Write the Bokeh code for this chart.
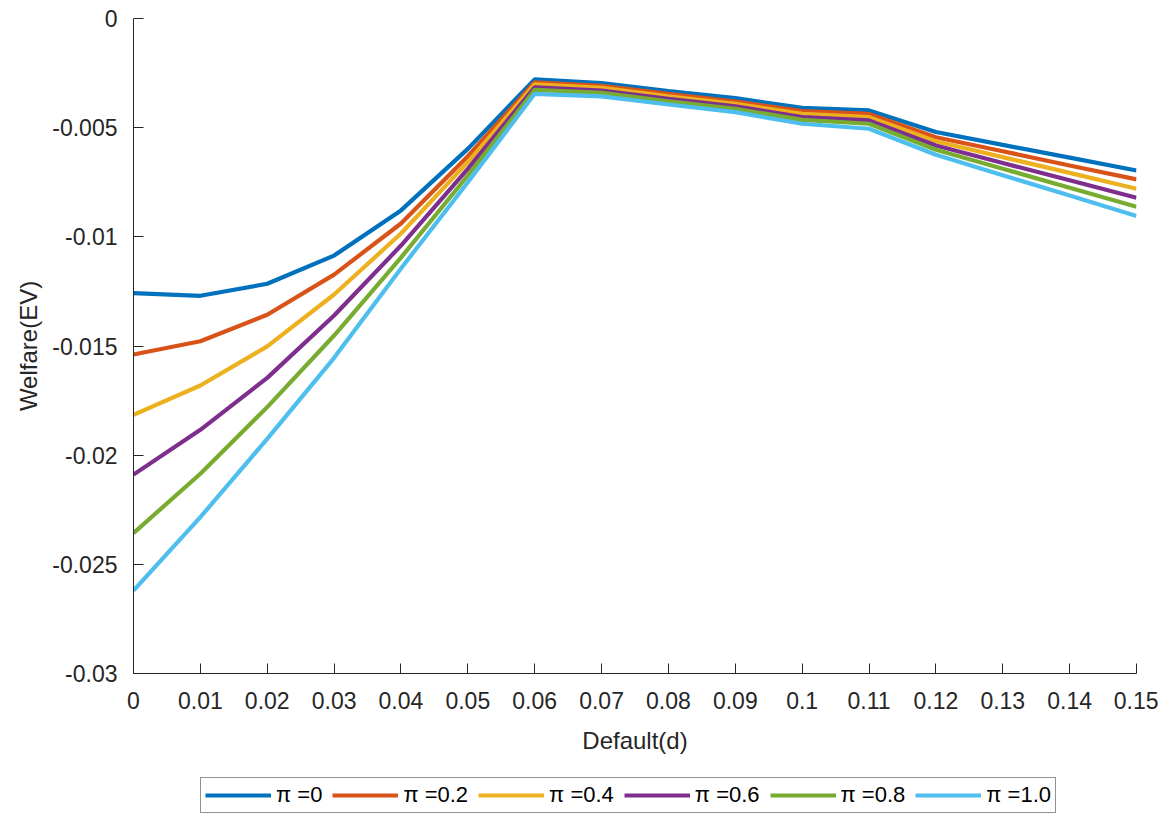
from bokeh.plotting import figure
from bokeh.layouts import column
from bokeh.models import Range1d, FixedTicker, Legend, LegendItem
from bokeh.embed import file_html
from bokeh.resources import INLINE

# Data
default_d = [0, 0.01, 0.02, 0.03, 0.04, 0.05, 0.06, 0.07, 0.08, 0.09, 0.10, 0.11, 0.12, 0.13, 0.14, 0.15]
pi_00 = [-0.01258, -0.01270, -0.01215, -0.01086, -0.00879, -0.00597, -0.00279, -0.00296, -0.00333, -0.00365,
         -0.00409, -0.00421, -0.00520, -0.00579, -0.00637, -0.00696]
pi_02 = [-0.01539, -0.01478, -0.01357, -0.01173, -0.00939, -0.00631, -0.00292, -0.00308, -0.00345, -0.00380,
         -0.00424, -0.00437, -0.00544, -0.00608, -0.00673, -0.00737]
pi_04 = [-0.01815, -0.01681, -0.01502, -0.01264, -0.00985, -0.00658, -0.00302, -0.00318, -0.00356, -0.00391,
         -0.00437, -0.00452, -0.00562, -0.00635, -0.00707, -0.00780]
pi_06 = [-0.02089, -0.01884, -0.01646, -0.01360, -0.01040, -0.00689, -0.00315, -0.00330, -0.00368, -0.00402,
         -0.00452, -0.00467, -0.00582, -0.00662, -0.00741, -0.00821]
pi_08 = [-0.02357, -0.02085, -0.01780, -0.01452, -0.01095, -0.00719, -0.00327, -0.00341, -0.00379, -0.00414,
         -0.00464, -0.00482, -0.00601, -0.00688, -0.00775, -0.00862]
pi_10 = [-0.02620, -0.02284, -0.01925, -0.01554, -0.01145, -0.00750, -0.00345, -0.00357, -0.00394, -0.00429,
         -0.00482, -0.00505, -0.00624, -0.00718, -0.00811, -0.00905]

series_labels = ["\u03c0 =0", "\u03c0 =0.2", "\u03c0 =0.4", "\u03c0 =0.6", "\u03c0 =0.8", "\u03c0 =1.0"]
series_colors = ["#0072BD", "#D95319", "#EDB120", "#7E2F8E", "#77AC30", "#4DBEEE"]
series_values = [pi_00, pi_02, pi_04, pi_06, pi_08, pi_10]

x_ticks = [0, 0.01, 0.02, 0.03, 0.04, 0.05, 0.06, 0.07, 0.08, 0.09, 0.10, 0.11, 0.12, 0.13, 0.14, 0.15]
x_tick_labels = ["0", "0.01", "0.02", "0.03", "0.04", "0.05", "0.06", "0.07", "0.08", "0.09",
                 "0.1", "0.11", "0.12", "0.13", "0.14", "0.15"]
y_ticks = [-0.03, -0.025, -0.02, -0.015, -0.01, -0.005, 0]
y_tick_labels = ["-0.03", "-0.025", "-0.02", "-0.015", "-0.01", "-0.005", "0"]

FONT = "Liberation Sans"
AXC = "#262626"

p = figure(frame_width=1003, frame_height=655,
           x_range=Range1d(0, 0.15), y_range=Range1d(-0.03, 0),
           output_backend="svg", toolbar_location=None,
           min_border_left=133, min_border_top=18, min_border_right=22, min_border_bottom=82)
p.outline_line_color = None
p.grid.visible = False
p.background_fill_color = "white"

for col, vals in zip(series_colors, series_values):
    p.line(default_d, vals, line_color=col, line_width=4.2)

for ax in (p.xaxis[0], p.yaxis[0]):
    ax.axis_line_color = AXC
    ax.axis_line_width = 1
    ax.major_tick_line_color = AXC
    ax.major_tick_in = 10
    ax.major_tick_out = 0
    ax.minor_tick_line_color = None
    ax.major_label_text_font = FONT
    ax.major_label_text_font_size = "23px"
    ax.major_label_text_color = AXC
    ax.axis_label_text_font = FONT
    ax.axis_label_text_font_size = "24px"
    ax.axis_label_text_font_style = "normal"
    ax.axis_label_text_color = AXC

p.xaxis.ticker = FixedTicker(ticks=x_ticks)
p.xaxis.major_label_overrides = {t: l for t, l in zip(x_ticks, x_tick_labels)}
p.yaxis.ticker = FixedTicker(ticks=y_ticks)
p.yaxis.major_label_overrides = {t: l for t, l in zip(y_ticks, y_tick_labels)}
p.xaxis.axis_label = "Default(d)"
p.yaxis.axis_label = "Welfare(EV)"
p.xaxis.major_label_standoff = 18
p.yaxis.major_label_standoff = 16
p.xaxis.axis_label_standoff = 15
p.yaxis.axis_label_standoff = 7

# Legend panel below the chart (same series drawn outside its visible range,
# so only the legend entries show)
lg = figure(width=1158, height=64, x_range=Range1d(0, 1), y_range=Range1d(1, 2),
            output_backend="svg", toolbar_location=None,
            min_border=0, x_axis_type=None, y_axis_type=None)
lg.outline_line_color = None
lg.grid.visible = False
items = []
for lab, col, vals in zip(series_labels, series_colors, series_values):
    r = lg.line(default_d, vals, line_color=col, line_width=4.2)
    items.append(LegendItem(label=lab, renderers=[r]))
legend = Legend(items=items, orientation="horizontal", location=(67, 7),
                label_text_font=FONT, label_text_font_size="22px", label_text_color="#000000",
                glyph_width=66, glyph_height=20, label_standoff=5, spacing=10,
                padding=4, margin=0, label_height=20,
                border_line_color=AXC, border_line_width=1, background_fill_color="white")
lg.add_layout(legend, "center")

layout = column(p, lg, spacing=0)
open("out.html", "w").write(file_html(layout, INLINE))
